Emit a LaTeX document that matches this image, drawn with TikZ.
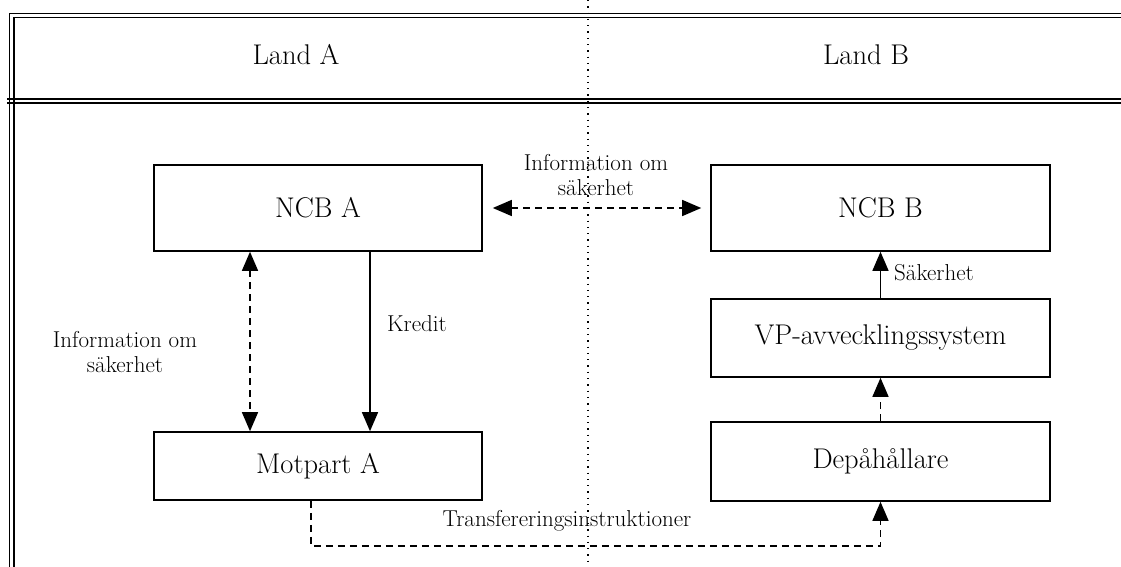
\documentclass[tikz,border=0pt]{standalone}
\usetikzlibrary{arrows.meta}
\begin{document}
\begin{tikzpicture}[x=1pt, y=-1pt,
  box/.style={draw, line width=1.6pt, inner sep=0pt, font=\fontsize{28.5}{32}\selectfont},
  lbl/.style={align=center, inner sep=0pt, font=\fontsize{23}{25.5}\selectfont},
  frameline/.style={line width=1.6pt},
  sep/.style={line width=1.3pt, dash pattern=on 1.3pt off 5pt},
  dsh/.style={line width=1.4pt, dash pattern=on 7pt off 5pt},
  sld/.style={line width=1.4pt},
  tip/.style={-{Triangle[length=19pt,width=16pt]}},
  tips/.style={{Triangle[length=19pt,width=16pt]}-{Triangle[length=19pt,width=16pt]}}]
\useasboundingbox (0,0) rectangle (1121,567);
% frame
\draw[frameline] (1121,13.5) -- (9.5,13.5) -- (9.5,567);
\draw[frameline] (1121,17.5) -- (14,17.5) -- (14,567);
\draw[frameline] (7,99) -- (1121,99);
\draw[frameline] (7,103) -- (1121,103);
\draw[sep] (588,0) -- (588,567);
\node[font=\fontsize{28.5}{32}\selectfont] (landa) at (296,55) {Land A};
\node[font=\fontsize{28.5}{32}\selectfont] (landb) at (866,55) {Land B};
% boxes
\node[box, minimum width=328pt, minimum height=86pt] (ncba) at (318,208) {NCB A};
\node[box, minimum width=339pt, minimum height=86pt] (ncbb) at (880.5,208) {NCB B};
\node[box, minimum width=339pt, minimum height=78pt] (vp) at (880.5,338) {VP-avvecklingssystem};
\node[box, minimum width=328pt, minimum height=68pt] (motpart) at (318,466) {Motpart A};
\node[box, minimum width=339pt, minimum height=79pt] (depa) at (880.5,461.5) {Depåhållare};
% connectors
\coordinate (xinfo) at (250,0);
\coordinate (xkred) at (370,0);
\coordinate (bend) at (311,546);
\draw[dsh, tips] ([xshift=10pt]ncba.east) -- ([xshift=-9pt]ncbb.west);
\node[lbl] (infob) at (596,175) {Information om\\säkerhet};
\draw[dsh, tips] (ncba.south -| xinfo) -- (motpart.north -| xinfo);
\node[lbl] (infoa) at (125,352) {Information om\\säkerhet};
\draw[sld, tip] (ncba.south -| xkred) -- (motpart.north -| xkred);
\node[lbl, anchor=west] (kredit) at (387,324) {Kredit};
\draw[sld, tip] (vp.north) -- (ncbb.south);
\node[lbl, anchor=west] (sak) at (894,273) {Säkerhet};
\draw[dsh, tip] (depa.north) -- (vp.south);
\draw[dsh, tip] (motpart.south -| bend) -- (bend) -| (depa.south);
\node[lbl] (transf) at (567,521) {Transfereringsinstruktioner};
\end{tikzpicture}
\end{document}
